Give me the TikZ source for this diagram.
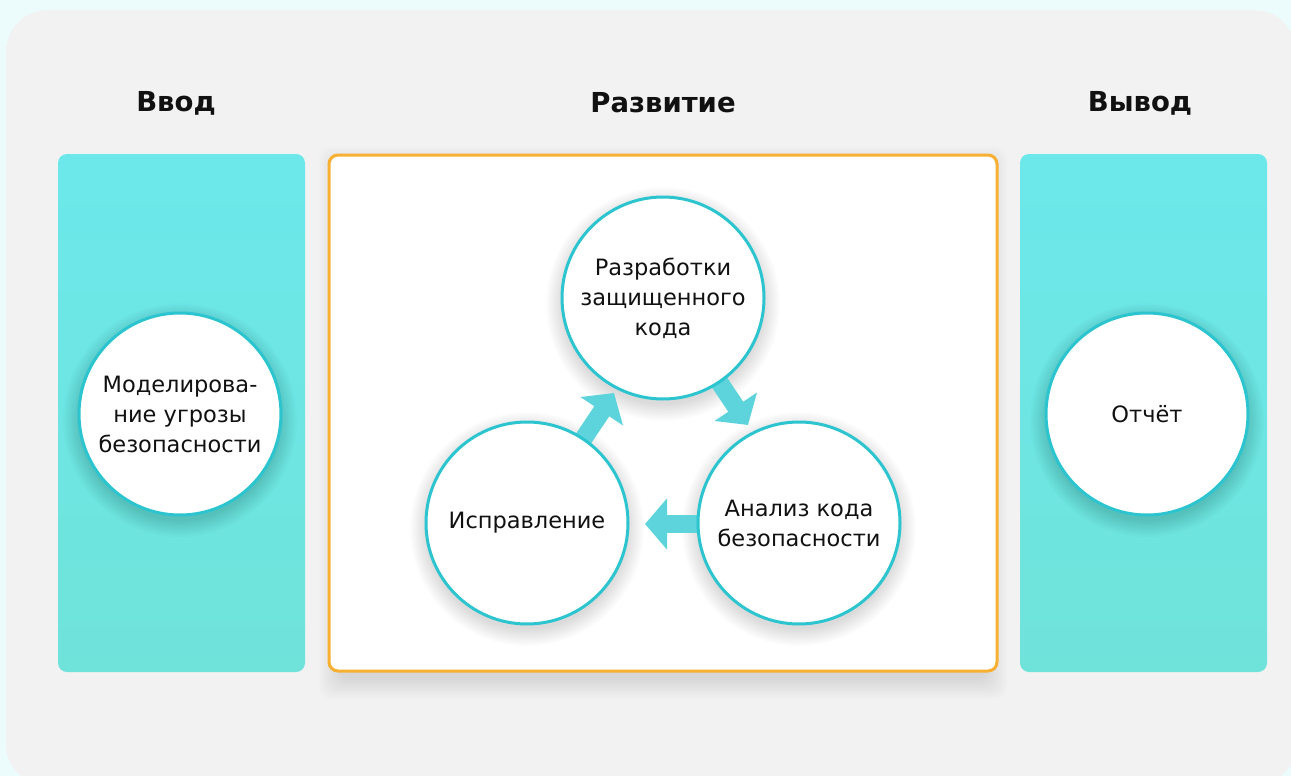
\documentclass[tikz,border=0pt]{standalone}
\usepackage{fontspec}
\setmainfont{DejaVu Sans}
\usetikzlibrary{arrows.meta,calc}
\definecolor{bgcyan}{HTML}{ECFCFC}
\definecolor{panelgrey}{HTML}{F2F2F2}
\definecolor{tealtop}{HTML}{6CE8EB}
\definecolor{tealbot}{HTML}{6FE3DA}
\definecolor{ring}{HTML}{2CC4CF}
\definecolor{arrowc}{HTML}{5DD3DC}
\definecolor{orangeb}{HTML}{F8B032}
\definecolor{txt}{HTML}{111111}
\tikzset{
  title/.style={font=\bfseries\fontsize{27.5}{30}\selectfont, text=txt},
  bubble/.style={circle, draw=ring, line width=3pt, fill=white, minimum size=202pt,
    inner sep=0pt, align=center, font=\fontsize{22.5}{30}\selectfont, text=txt},
  side/.style={rounded corners=9pt, top color=tealtop, bottom color=tealbot, draw=none},
  devbox/.style={draw=orangeb, line width=3pt, fill=white, rounded corners=9pt,
    minimum width=668pt, minimum height=516pt, inner sep=0pt},
  shadowpiece/.style={fill=black, opacity=0.011, draw=none},
  flow/.style={arrowc, line width=18pt, -{Triangle[width=50pt,length=22pt]}},
}
\newcommand{\cshadow}[1]{%
  \foreach \k in {1,...,12}{\fill[shadowpiece] ($(#1)+(0,6)$) circle ({99+1.5*\k});}}
\begin{document}
\begin{tikzpicture}[x=1pt,y=-1pt]
\useasboundingbox (0,0) rectangle (1291,776);
\begin{scope}
  \clip (0,0) rectangle (1291,776);
  \fill[bgcyan] (0,0) rectangle (1291,776);
  \fill[panelgrey, rounded corners=42pt] (6,10) rectangle (1296,786);
\end{scope}
\shade[side] (58,154) rectangle (305,672);
\shade[side] (1020,154) rectangle (1267,672);

\foreach \k in {1,...,14}{
  \fill[shadowpiece, opacity=0.009, rounded corners=12pt]
    (329+12-1.6*\k,155+14-1.6*\k) rectangle (997-12+1.6*\k,671+6+1.6*\k);}
\node[devbox] (dev) at (663,413) {};

\node[title] (tin) at (176,103) {Ввод};
\node[title] (tdev) at (663,103) {Развитие};
\node[title] (tout) at (1140,103) {Вывод};

\coordinate (inpc) at (180,414);
\coordinate (outc) at (1147,414);
\coordinate (codec) at (663,298);
\coordinate (fixc) at (527,523);
\coordinate (anac) at (799,523);
\coordinate (t1) at (614,393);
\coordinate (t2) at (748,425);
\coordinate (t3) at (645,524);

\cshadow{inpc}
\cshadow{outc}
\cshadow{codec}
\cshadow{fixc}
\cshadow{anac}

\draw[flow] (fixc) -- (t1);
\draw[flow] (codec) -- (t2);
\draw[flow] (anac |- t3) -- (t3);

\node[bubble] (inp) at (inpc) {Моделирова-\\ние угрозы\\безопасности};
\node[bubble] (code) at (codec) {Разработки\\защищенного\\кода};
\node[bubble] (fix) at (fixc) {Исправление};
\node[bubble] (ana) at (anac) {Анализ кода\\безопасности};
\node[bubble] (out) at (outc) {Отчёт};
\end{tikzpicture}
\end{document}
